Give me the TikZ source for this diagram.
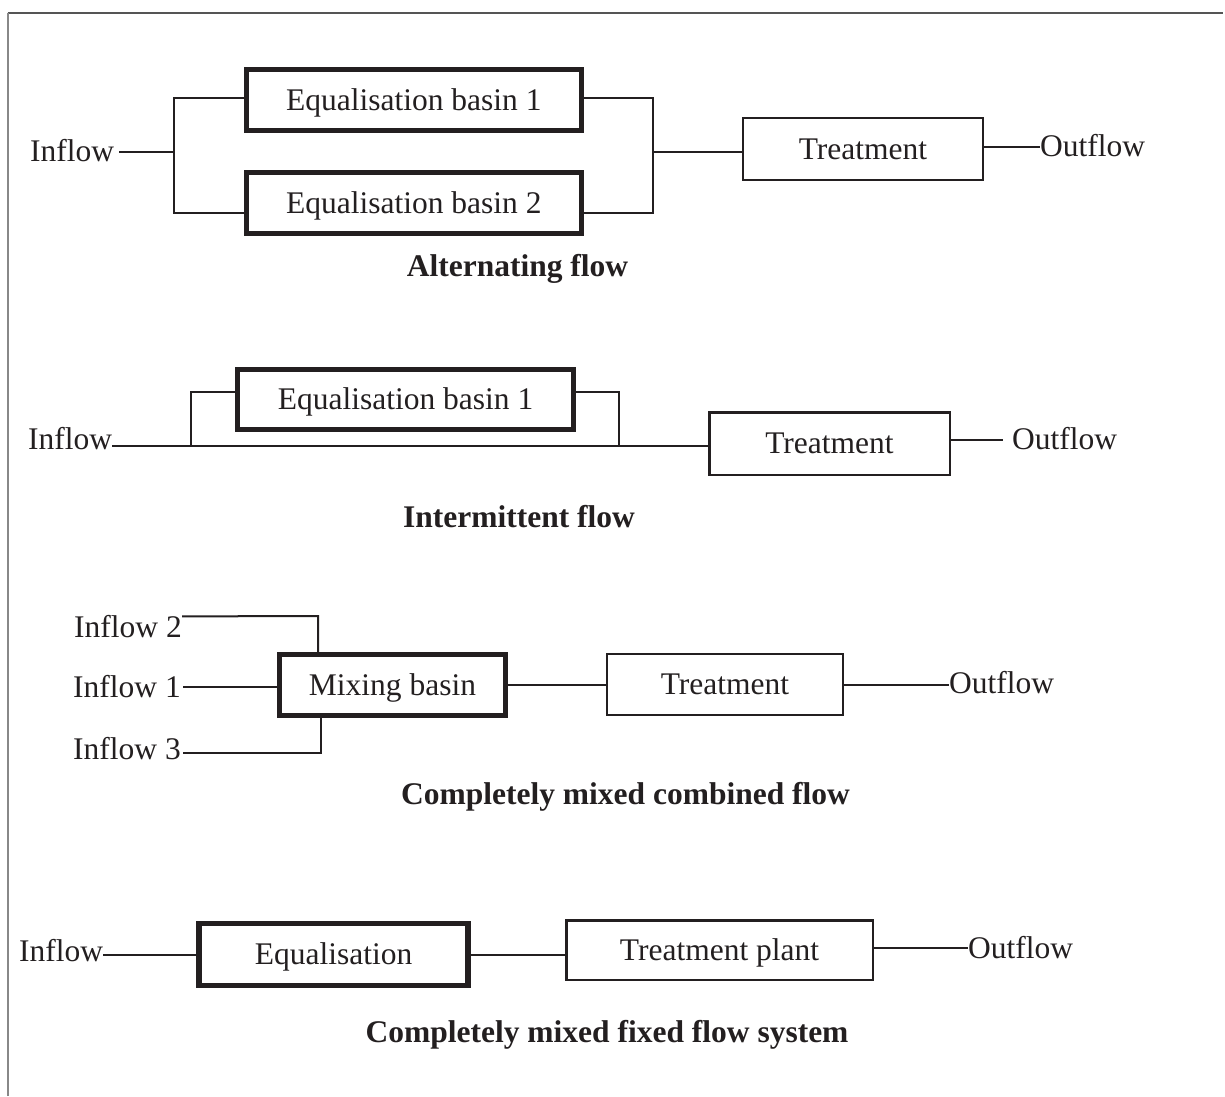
\documentclass[tikz,border=0pt]{standalone}
\usepackage{fontspec}
\setmainfont{Liberation Serif}
\usetikzlibrary{calc}
\definecolor{ink}{HTML}{231F20}
\definecolor{frametop}{HTML}{555555}
\definecolor{frameleft}{HTML}{888888}
\begin{document}
\begin{tikzpicture}[x=1pt,y=-1pt,
  lbl/.style={inner sep=0pt, text height=20.8pt, text depth=0pt, font=\fontsize{31.5}{36}\selectfont, text=ink},
  ttl/.style={lbl, font=\fontsize{31.5}{36}\selectfont\bfseries},
  thickbox/.style={lbl, draw=ink, line width=5.5pt},
  thinbox/.style={lbl, draw=ink, line width=2.5pt},
  conn/.style={draw=ink, line width=2pt},
]
\useasboundingbox (0,0) rectangle (1225,1096);
% frame
\coordinate (fTL) at (7.7,12.7);
\coordinate (fTR) at (1223,12.7);
\coordinate (fBL) at (7.7,1096);
\draw[frametop, line width=2pt] (fTL) -- (fTR);
\draw[frameleft, line width=2pt] (fBL) -- (fTL);

% ---------- Section 1: Alternating flow ----------
\node[thickbox, minimum width=335pt, minimum height=60.6pt] (b1) at (413.8,100) {Equalisation basin 1};
\node[thickbox, minimum width=335pt, minimum height=60.6pt] (b2) at (413.8,203) {Equalisation basin 2};
\node[thinbox, minimum width=239.6pt, minimum height=61.6pt] (t1) at (863,149) {Treatment};
\node[lbl, anchor=west] (in1) at (30,151.5) {Inflow};
\node[lbl, anchor=west] (out1) at (1040,146.5) {Outflow};
\node[ttl] (cap1) at (517.5,266.5) {Alternating flow};
\coordinate (aL) at (174,98);
\coordinate (bL) at (174,213);
\coordinate (jL) at (174,151.5);
\coordinate (aR) at (653,98);
\coordinate (bR) at (653,213);
\coordinate (jR) at (653,152);
\draw[conn, shorten <=5pt] (in1.east) -- (jL);
\draw[conn] (b1.west |- aL) -- (aL) -- (bL) -- (b2.west |- bL);
\draw[conn] (b1.east |- aR) -- (aR) -- (bR) -- (b2.east |- bR);
\draw[conn] (jR) -- (jR -| t1.west);
\draw[conn] (t1.east |- out1.west) -- (out1.west);

% ---------- Section 2: Intermittent flow ----------
\node[thickbox, minimum width=335.6pt, minimum height=59.6pt] (e2) at (405.5,399.5) {Equalisation basin 1};
\node[thinbox, minimum width=240.5pt, minimum height=62.5pt] (t2) at (829.5,443.5) {Treatment};
\node[lbl, anchor=west] (in2) at (28,439) {Inflow};
\node[lbl, anchor=west] (out2) at (1012,439.5) {Outflow};
\node[ttl] (cap2) at (519,517.5) {Intermittent flow};
\coordinate (m2) at (0,446);
\coordinate (p2) at (191,392);
\coordinate (q2) at (619,392);
\draw[conn] (in2.east |- m2) -- (t2.west |- m2);
\draw[conn] (p2 |- m2) -- (p2) -- (p2 -| e2.west);
\draw[conn] (q2 -| e2.east) -- (q2) -- (q2 |- m2);
\draw[conn, shorten >=9pt] (t2.east |- out2.west) -- (out2.west);

% ---------- Section 3: Completely mixed combined flow ----------
\node[thickbox, minimum width=225.6pt, minimum height=60.6pt] (mix) at (392.5,685) {Mixing basin};
\node[thinbox, minimum width=235.6pt, minimum height=60.6pt] (t3) at (725,684.5) {Treatment};
\node[lbl, anchor=west] (i2) at (74,627) {Inflow 2};
\node[lbl, anchor=west] (i1) at (73,687) {Inflow 1};
\node[lbl, anchor=west] (i3) at (73,749.5) {Inflow 3};
\node[lbl, anchor=west] (out3) at (949,683) {Outflow};
\node[ttl] (cap3) at (625.5,794) {Completely mixed combined flow};
\coordinate (c2) at (318,616);
\coordinate (c3) at (321,753);
\draw[conn] (i2.north east) -- (c2) -- (c2 |- mix.north);
\draw[conn, shorten <=2pt] (i1.east) -- (i1.east -| mix.west);
\draw[conn, shorten <=2pt] (i3.east |- c3) -- (c3) -- (c3 |- mix.south);
\draw[conn] (mix.east) -- (mix.east -| t3.west);
\draw[conn] (t3.east) -- (t3.east -| out3.west);

% ---------- Section 4: Completely mixed fixed flow system ----------
\node[thickbox, minimum width=269pt, minimum height=61.6pt] (eq) at (333.5,954.5) {Equalisation};
\node[thinbox, minimum width=306.5pt, minimum height=59.5pt] (tp) at (719.5,950) {Treatment plant};
\node[lbl, anchor=west] (in4) at (19,951) {Inflow};
\node[lbl, anchor=west] (out4) at (968,948) {Outflow};
\node[ttl] (cap4) at (607,1032) {Completely mixed fixed flow system};
\draw[conn] (in4.east |- eq.west) -- (eq.west);
\draw[conn] (eq.east) -- (eq.east -| tp.west);
\draw[conn] (tp.east |- out4.west) -- (out4.west);
\end{tikzpicture}
\end{document}
